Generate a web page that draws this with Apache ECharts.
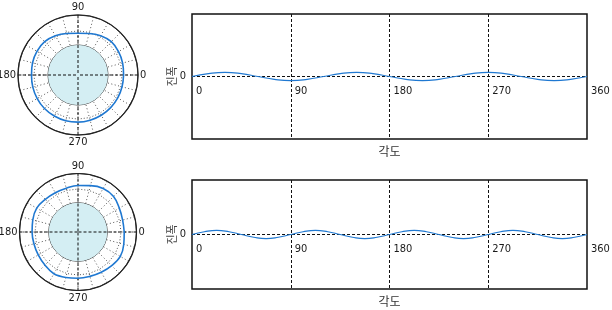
<!DOCTYPE html>
<html><head><meta charset="utf-8">
<script src="https://cdn.jsdelivr.net/npm/echarts@6/dist/echarts.min.js"></script>
<style>html,body{margin:0;padding:0;background:#fff}#c{width:612px;height:310px}</style>
</head><body><div id="c"></div>
<script>
const FONT = "'Liberation Sans Narrow','DejaVu Sans Condensed','Noto Sans CJK KR',sans-serif";
const xName = '각도';
const yName = '진폭';

// angles (degrees)
const angles15 = [0,15,30,45,60,75,90,105,120,135,150,165,180,195,210,225,240,255,270,285,300,315,330,345,360];
const angles11 = [0,11.25,22.5,33.75,45,56.25,67.5,78.75,90,101.25,112.5,123.75,135,146.25,157.5,168.75,180,191.25,202.5,213.75,225,236.25,247.5,258.75,270,281.25,292.5,303.75,315,326.25,337.5,348.75,360];

// amplitude vs angle (wave panels)
const topWave = [0,0.09,0.13,0.09,0,-0.09,-0.13,-0.09,0,0.09,0.13,0.09,0,-0.09,-0.13,-0.09,0,0.09,0.13,0.09,0,-0.09,-0.13,-0.09,0];
const bottomWave = [0,0.1,0.15,0.1,0,-0.1,-0.15,-0.1,0,0.1,0.15,0.1,0,-0.1,-0.15,-0.1,0,0.1,0.15,0.1,0,-0.1,-0.15,-0.1,0,0.1,0.15,0.1,0,-0.1,-0.15,-0.1,0];

// profile radius vs angle (polar panels), outer circle = 2, hub = 1
const topProfile = [1.52,1.54,1.56,1.57,1.51,1.43,1.39,1.43,1.51,1.57,1.58,1.57,1.55,1.56,1.57,1.58,1.58,1.58,1.57,1.56,1.55,1.54,1.53,1.52,1.52];
const bottomProfile = [1.58,1.58,1.63,1.72,1.72,1.64,1.59,1.55,1.55,1.58,1.63,1.60,1.57,1.56,1.57,1.60,1.65,1.61,1.58,1.57,1.59,1.63,1.67,1.62,1.58];
const refRadius = 1.47;
const hubRadius = 1;

const BLUE = '#1f78d1';
const chart = echarts.init(document.getElementById('c'), null, {renderer:'canvas'});

// per diagram: [hub fill + circles, spoke annulus, crosshair + labels + series]
const centers = [[78,75,60],[78,232,58.5]];
const polars = [], angleAxes = [], radiusAxes = [];
centers.forEach(([cx, cy, R]) => {
  const base = polars.length;
  polars.push({center:[cx,cy], radius:R});
  angleAxes.push({polarIndex:base, type:'value', min:0, max:360, interval:90, startAngle:0, clockwise:false,
    axisLine:{show:false}, axisTick:{show:false}, axisLabel:{show:false}, splitLine:{show:false}});
  radiusAxes.push({polarIndex:base, type:'value', min:0, max:2, interval:hubRadius,
    axisLine:{show:false}, axisTick:{show:false}, axisLabel:{show:false},
    splitLine:{show:true, lineStyle:{color:'#333', width:1}},
    splitArea:{show:true, areaStyle:{color:['#d4eef3','rgba(255,255,255,0)']}}});
  polars.push({center:[cx,cy], radius:[R/2, R]});
  angleAxes.push({polarIndex:base+1, type:'value', min:0, max:360, interval:15, startAngle:0, clockwise:false,
    axisLine:{show:false}, axisTick:{show:false}, axisLabel:{show:false},
    splitLine:{show:true, lineStyle:{color:'#555', type:[1,2.5], width:1}}});
  radiusAxes.push({polarIndex:base+1, type:'value', min:1, max:2,
    axisLine:{show:false}, axisTick:{show:false}, axisLabel:{show:false}, splitLine:{show:false}});
  polars.push({center:[cx,cy], radius:R});
  angleAxes.push({polarIndex:base+2, type:'value', min:0, max:360, interval:90, startAngle:0, clockwise:false, z:3,
    axisLine:{show:true, lineStyle:{color:'#222', width:1.2}},
    axisTick:{show:false},
    axisLabel:{show:true, margin:2, color:'#1a1a1a', fontSize:11, fontFamily:FONT,
      formatter: v => (v === 360 ? '' : String(v))},
    splitLine:{show:true, lineStyle:{color:'#111', type:[3,2], width:1}}});
  radiusAxes.push({polarIndex:base+2, type:'value', min:0, max:2, z:3,
    axisLine:{show:false}, axisTick:{show:false}, axisLabel:{show:false}, splitLine:{show:false}});
});

function gridAxes(idx, labelMargin) {
  return {
    x: {gridIndex:idx, type:'value', min:0, max:360, interval:90,
      axisLine:{show:false, onZero:false},
      axisTick:{show:false},
      axisLabel:{align:'left', margin:labelMargin, padding:[0,0,0,4], color:'#1a1a1a', fontSize:11, fontFamily:FONT},
      splitLine:{show:true, showMinLine:false, showMaxLine:false, lineStyle:{color:'#111', type:[3,2], width:1}},
      name:xName, nameLocation:'middle', nameGap:8, nameMoveOverlap:false,
      nameTextStyle:{color:'#333', fontSize:12, fontFamily:FONT}},
    y: {gridIndex:idx, type:'value', min:-2, max:2, interval:2,
      axisLine:{show:false}, axisTick:{show:false},
      splitLine:{show:true, showMinLine:false, showMaxLine:false, lineStyle:{color:'#111', type:[3,2], width:1}},
      axisLabel:{margin:6, color:'#1a1a1a', fontSize:11, fontFamily:FONT, formatter: v => (v === 0 ? '0' : '')},
      name:yName, nameLocation:'middle', nameRotate:90, nameGap:13, nameMoveOverlap:false,
      nameTextStyle:{color:'#444', fontSize:11, fontFamily:FONT}}
  };
}
const g0 = gridAxes(0, -53), g1 = gridAxes(1, -45);

const option = {
  animation:false,
  backgroundColor:'#fff',
  grid:[
    {left:192, top:14, width:395, height:125, show:true, borderColor:'#111', borderWidth:1.5,
      backgroundColor:'rgba(0,0,0,0)', containLabel:false, outerBoundsMode:'none'},
    {left:192, top:180, width:395, height:109, show:true, borderColor:'#111', borderWidth:1.5,
      backgroundColor:'rgba(0,0,0,0)', containLabel:false, outerBoundsMode:'none'}
  ],
  xAxis:[g0.x, g1.x],
  yAxis:[g0.y, g1.y],
  polar:polars,
  angleAxis:angleAxes,
  radiusAxis:radiusAxes,
  series:[
    {type:'line', coordinateSystem:'polar', polarIndex:2, z:4, silent:true, symbol:'none',
      data: angles15.map(a => [refRadius, a]), lineStyle:{color:'#555', type:[1,2], width:1}},
    {type:'line', coordinateSystem:'polar', polarIndex:2, z:5, silent:true, symbol:'none', smooth:0.4,
      data: topProfile.map((r, i) => [r, angles15[i]]), lineStyle:{color:BLUE, width:1.6}},
    {type:'line', coordinateSystem:'polar', polarIndex:5, z:4, silent:true, symbol:'none',
      data: angles15.map(a => [refRadius, a]), lineStyle:{color:'#555', type:[1,2], width:1}},
    {type:'line', coordinateSystem:'polar', polarIndex:5, z:5, silent:true, symbol:'none', smooth:0.4,
      data: bottomProfile.map((r, i) => [r, angles15[i]]), lineStyle:{color:BLUE, width:1.6}},
    {type:'line', xAxisIndex:0, yAxisIndex:0, z:5, silent:true, symbol:'none', smooth:0.5,
      data: topWave.map((v, i) => [angles15[i], v]), lineStyle:{color:BLUE, width:1.2}},
    {type:'line', xAxisIndex:1, yAxisIndex:1, z:5, silent:true, symbol:'none', smooth:0.5,
      data: bottomWave.map((v, i) => [angles11[i], v]), lineStyle:{color:BLUE, width:1.2}}
  ]
};
chart.setOption(option);
</script>
</body></html>
